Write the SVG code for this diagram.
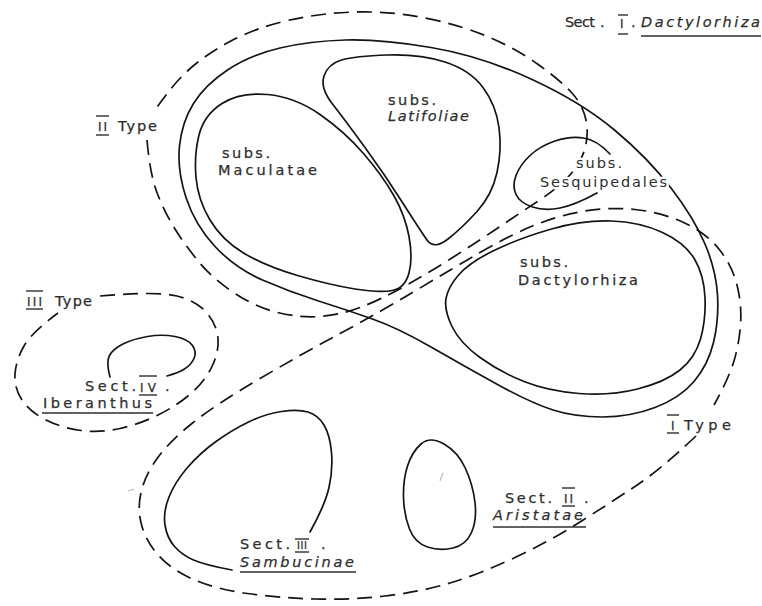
<svg xmlns="http://www.w3.org/2000/svg" width="762" height="606" viewBox="0 0 762 606">
<style>
.s{fill:none;stroke:#141414;stroke-width:1.7;stroke-linecap:round;stroke-linejoin:round}
.d{fill:none;stroke:#141414;stroke-width:1.7;stroke-dasharray:15 8;stroke-linecap:butt}
.t{font-family:"DejaVu Sans","Liberation Sans",Arial,sans-serif;font-size:14.5px;fill:#2e2e2e;stroke:#2e2e2e;stroke-width:0.25}
.r{font-size:12px}
.it{font-style:italic}
.h{stroke:#fff;stroke-width:5;paint-order:stroke;stroke-linejoin:round}
.b{stroke:#2e2e2e;stroke-width:1.4;fill:none}
.n{stroke:#bbb;stroke-width:1.2;fill:none}
</style>
<rect width="762" height="606" fill="#fff"/>

<g id="type-boundaries">
  <path id="type2" class="d" d="M147,140 Q150,175 157.5,194 T175,229 T198.5,261.5 T233.5,292.5 T277.5,312.5 T320,316.5 T360,307.5 T405,286 T455,256 T500,226.5 T537.5,201.5 T567.5,177.5 T584.5,150 T586,120 T571.5,92.5 T537.5,64 T487.5,36.5 T425,18 T355,12 T287.5,20.5 T230,41.5 T188.5,70 Q172,85 153,113"/>
  <path id="type1" class="d" d="M696,436 Q660,470 635,486.5 T580,522 T515,557.5 T450,583 T385,596 T315,599 T247.5,593.5 T193.5,579.5 T159.5,556.5 T142,526.5 T141,492.5 T157.5,458 T192.5,423 T257.5,380 T340,333.5 T415,291 T480,252.5 T535,225 T585,211 T635,209.5 T682.5,222 T718.5,248.5 T737,285 T740.5,325 T733.5,362.5 Q728,380 714,405"/>
  <path id="type3" class="d" d="M100,296 Q157,291 177,296 T207,313 T218,338.5 T212,366.5 T191.5,393 T159,414.5 T120,428.5 T81,430.5 T46,420 T22,400 T15,374 T24,346 Q32,332 58,313"/>
</g>

<g id="sect1">
  <path class="s" d="M345.5,40 Q381,39 431,47.5 T531,79 T614.5,130 T671,188 T705,244 T717.5,295 T713.5,342.5 T694,381.5 T655,407.5 T602.5,417 T553,410 T497.5,384.5 T431,347 T372.5,319 T318.5,301 T262.5,280 T215,246.5 T186,197.5 T179.5,146 T193.5,103.5 T227.5,70 T280,48 T345.5,40 Z"/>
  <text class="t" x="565" y="27" textLength="30">Sect</text>
  <text class="t" x="600" y="27">.</text>
  <text class="t r" x="620" y="28">I</text>
  <line class="b" x1="618" y1="15" x2="628" y2="15"/>
  <line class="b" x1="618" y1="34" x2="628" y2="34"/>
  <text class="t" x="631" y="27">.</text>
  <text class="t it" x="641" y="27" textLength="119">Dactylorhiza</text>
  <line class="b" x1="641" y1="36" x2="761" y2="36"/>
</g>

<g id="maculatae">
  <path class="s" d="M222,103.5 Q240,92 267.5,94.5 T320,114.5 T363.5,153.5 T393.5,195 T409,236.5 T409,273 T392.5,290.5 T355,289 T297.5,275.5 T243.5,253 T210,220 T196,177.5 T199,135 T222,103.5 Z"/>
  <text class="t" x="222" y="158" textLength="48">subs.</text>
  <text class="t" x="218" y="175" textLength="99">Maculatae</text>
</g>

<g id="latifoliae">
  <path class="s" d="M341.5,60 Q355,56 387.5,55 T445,62 T483,87.5 T499,127.5 T497,172.5 T477,211.5 T448,239 T427,240 T402.5,202.5 T365,147.5 T332.5,104 T324,76 T341.5,60 Z"/>
  <text class="t" x="388" y="105" textLength="48">subs.</text>
  <text class="t it" x="388" y="121" textLength="81">Latifoliae</text>
</g>

<g id="sesquipedales">
  <path class="s" d="M610,154 Q597,140 583.5,138 T555,141 T530,155.5 T516,175.5 T516,194.5 T532.5,207 T560,208 Q575,205 597,193"/>
  <text class="t h" x="576" y="168" textLength="46">subs.</text>
  <text class="t h" x="540" y="187" textLength="127">Sesquipedales</text>
</g>

<g id="dactylorhiza">
  <path class="s" d="M495,250 Q520,238 551.5,229 T611.5,221 T662.5,232.5 T694.5,259 T705,297.5 T700.5,339 T680,370 T637.5,389 T579,393.5 T524,381.5 T480,357.5 T452,326.5 T446,298.5 T459,274.5 T495,250 Z"/>
  <text class="t" x="520" y="267" textLength="48">subs.</text>
  <text class="t" x="518" y="285" textLength="120">Dactylorhiza</text>
</g>

<g id="iberanthus">
  <path class="s" d="M110,377 Q106,362 109.5,355.5 T123,344 T147.5,336.5 T175,336.5 T192.5,345.5 T194,358.5 T184.5,369 Q178,373 167,376"/>
  <text class="t" x="85" y="391" textLength="51">Sect.</text>
  <text class="t r" x="140" y="392" textLength="16">IV</text>
  <line class="b" x1="139" y1="376" x2="157" y2="376"/>
  <line class="b" x1="139" y1="395" x2="157" y2="395"/>
  <text class="t" x="165" y="391">.</text>
  <text class="t" x="43" y="408" textLength="109">Iberanthus</text>
  <line class="b" x1="42" y1="413" x2="153" y2="413"/>
</g>

<g id="sambucinae">
  <path class="s" d="M310,532 Q325,505 329,487.5 T331.5,452.5 T324,425 T308,412 T281.5,411.5 T248.5,422 T216,441.5 T187.5,467.5 T169,497 T165,525 T174.5,546.5 T193.5,560 Q205,565 232,570"/>
  <text class="t" x="240" y="549" textLength="50">Sect.</text>
  <text class="t" x="297" y="549" style="font-size:10px" textLength="10">III</text>
  <line class="b" x1="295" y1="539" x2="309" y2="539"/>
  <line class="b" x1="295" y1="552" x2="309" y2="552"/>
  <text class="t" x="321" y="549">.</text>
  <text class="t it" x="240" y="567" textLength="114">Sambucinae</text>
  <line class="b" x1="240" y1="572" x2="356" y2="572"/>
</g>

<g id="aristatae">
  <path class="s" d="M421,444 Q430,436 444,444 T465.5,468.5 T475,502.5 T471.5,532.5 T453,548 T427.5,547 T409.5,529 T403.5,497.5 T407.5,466 T421,444 Z"/>
  <text class="t" x="505" y="503" textLength="47">Sect.</text>
  <text class="t r" x="564" y="503" textLength="9">II</text>
  <line class="b" x1="562" y1="488" x2="575" y2="488"/>
  <line class="b" x1="562" y1="506" x2="575" y2="506"/>
  <text class="t" x="584" y="503">.</text>
  <text class="t it" x="493" y="520" textLength="90">Aristatae</text>
  <line class="b" x1="493" y1="527" x2="586" y2="527"/>
</g>

<g id="type-labels">
  <text class="t r" x="98" y="131" textLength="9">II</text>
  <line class="b" x1="96" y1="116" x2="109" y2="116"/>
  <line class="b" x1="96" y1="135" x2="109" y2="135"/>
  <text class="t" x="118" y="131" textLength="39">Type</text>
  <text class="t r" x="27" y="306" textLength="15">III</text>
  <line class="b" x1="26" y1="291" x2="43" y2="291"/>
  <line class="b" x1="26" y1="309" x2="43" y2="309"/>
  <text class="t" x="55" y="306" textLength="37">Type</text>
  <text class="t r" x="671" y="430">I</text>
  <line class="b" x1="667" y1="415" x2="679" y2="415"/>
  <line class="b" x1="667" y1="433" x2="679" y2="433"/>
  <text class="t" x="684" y="430" textLength="47">Type</text>
</g>

<g id="marks">
  <path class="n" d="M443,473 L440,481"/>
  <path class="n" d="M128,491 L134,489"/>
</g>
</svg>
